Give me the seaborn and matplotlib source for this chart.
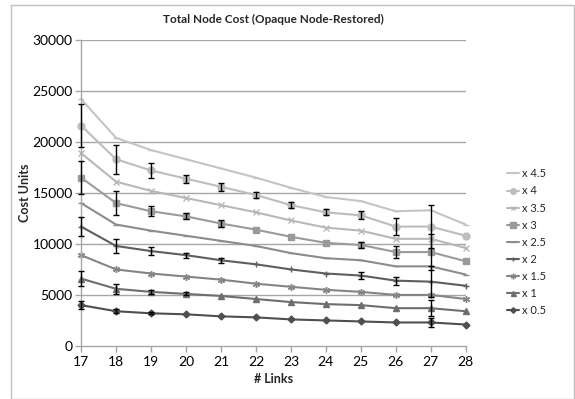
import numpy as np
import pandas as pd
import matplotlib
matplotlib.use("Agg")
import matplotlib.pyplot as plt
from matplotlib.patches import Rectangle
import seaborn as sns

# Number of links on the x axis
links = [17, 18, 19, 20, 21, 22, 23, 24, 25, 26, 27, 28]

# Total node cost per scale factor
cost_x45 = [24200, 20400, 19200, 18300, 17400, 16500, 15500, 14600, 14200, 13200, 13300, 11900]
cost_x4 = [21600, 18300, 17200, 16400, 15600, 14800, 13800, 13100, 12800, 11700, 11700, 10800]
cost_x35 = [18900, 16100, 15200, 14500, 13800, 13100, 12300, 11600, 11300, 10500, 10500, 9600]
cost_x3 = [16500, 14000, 13200, 12700, 12000, 11400, 10700, 10100, 9900, 9200, 9200, 8300]
cost_x25 = [14000, 11900, 11300, 10800, 10300, 9800, 9100, 8600, 8400, 7800, 7800, 7000]
cost_x2 = [11700, 9800, 9300, 8900, 8400, 8000, 7500, 7100, 6900, 6400, 6300, 5900]
cost_x15 = [8900, 7500, 7100, 6800, 6500, 6100, 5800, 5500, 5300, 5000, 5000, 4600]
cost_x1 = [6600, 5600, 5300, 5100, 4900, 4600, 4300, 4100, 4000, 3700, 3700, 3400]
cost_x05 = [4000, 3400, 3200, 3100, 2900, 2800, 2600, 2500, 2400, 2300, 2300, 2100]

# Error magnitudes (0 = no error bar)
err_x4 = [2100, 1400, 700, 400, 400, 300, 300, 300, 400, 800, 2100, 0]
err_x3 = [1600, 1200, 500, 300, 300, 0, 0, 0, 300, 600, 1800, 0]
err_x2 = [900, 700, 400, 250, 250, 0, 0, 0, 300, 400, 1500, 0]
err_x1 = [700, 500, 200, 150, 0, 0, 0, 0, 0, 0, 800, 0]
err_x05 = [400, 200, 100, 0, 0, 0, 0, 0, 0, 0, 400, 0]

series_labels = ["x 4.5", "x 4", "x 3.5", "x 3", "x 2.5", "x 2", "x 1.5", "x 1", "x 0.5"]
series_values = [cost_x45, cost_x4, cost_x35, cost_x3, cost_x25, cost_x2, cost_x15, cost_x1, cost_x05]
series_errors = {"x 4": err_x4, "x 3": err_x3, "x 2": err_x2, "x 1": err_x1, "x 0.5": err_x05}

palette = {
    "x 4.5": "#C4C4C4",
    "x 4": "#BDBDBD",
    "x 3.5": "#B8B8B8",
    "x 3": "#9A9A9A",
    "x 2.5": "#8C8C8C",
    "x 2": "#5E5E5E",
    "x 1.5": "#858585",
    "x 1": "#6E6E6E",
    "x 0.5": "#4F4F4F",
}
markers = {
    "x 4.5": "_",
    "x 4": "o",
    "x 3.5": "x",
    "x 3": "s",
    "x 2.5": "_",
    "x 2": "+",
    "x 1.5": (6, 2, 0),
    "x 1": "^",
    "x 0.5": "D",
}
marker_sizes = {"x 4.5": 4, "x 4": 5, "x 3.5": 4, "x 3": 5, "x 2.5": 4,
                "x 2": 4, "x 1.5": 5, "x 1": 4.5, "x 0.5": 3.5}

df = pd.DataFrame(
    [(x, lab, v) for lab, vals in zip(series_labels, series_values) for x, v in zip(links, vals)],
    columns=["Links", "Scale", "Cost"],
)

sns.set_theme(style="white")
plt.rcParams["font.family"] = ["Lato", "DejaVu Sans"]

fig = plt.figure(figsize=(5.75, 3.99), dpi=100)
ax = fig.add_axes([0.141, 0.133, 0.669, 0.767])

grid_col = "#A6A6A6"
for y in range(5000, 30001, 5000):
    ax.axhline(y, color=grid_col, lw=1.0, zorder=0)

for lab in series_labels:
    sub = df[df["Scale"] == lab]
    sns.lineplot(data=sub, x="Links", y="Cost", ax=ax, color=palette[lab],
                 marker=markers[lab], markersize=marker_sizes[lab],
                 markeredgecolor=palette[lab], markerfacecolor=palette[lab],
                 markeredgewidth=1.0, lw=1.5, label=lab, clip_on=False,
                 errorbar=None)

for lab, err in series_errors.items():
    vals = np.array(series_values[series_labels.index(lab)], dtype=float)
    e = np.array(err, dtype=float)
    m = e > 0
    ax.errorbar(np.array(links)[m], vals[m], yerr=e[m], fmt="none",
                ecolor="black", elinewidth=1.0, capsize=2, capthick=1.0,
                zorder=5, clip_on=False)

ax.set_xlim(17, 28)
ax.set_ylim(0, 30000)
ax.set_xticks(links)
ax.set_yticks(range(0, 30001, 5000))
ax.tick_params(axis="both", labelsize=10, length=4, width=1,
               direction="out", bottom=True, left=True, labelcolor="black",
               color=grid_col)
ax.tick_params(axis="y", pad=2)
for s in ["top", "right"]:
    ax.spines[s].set_visible(False)
for s in ["left", "bottom"]:
    ax.spines[s].set_color(grid_col)
    ax.spines[s].set_linewidth(1.0)

ax.set_xlabel("# Links", fontsize=9, fontweight="bold", labelpad=3)
ax.set_ylabel("Cost Units", fontsize=9, fontweight="bold")
ax.yaxis.set_label_coords(-0.13, 0.5)
ax.set_title("Total Node Cost (Opaque Node-Restored)", fontsize=8.5,
             fontweight="bold", pad=12)
ax.grid(False)

handles, labels = ax.get_legend_handles_labels()
leg = ax.legend(handles, labels, loc="upper left", bbox_to_anchor=(1.095, 0.595),
                frameon=False, fontsize=8, handlelength=1.1, handletextpad=0.3,
                labelspacing=0.55, borderaxespad=0, markerscale=0.8)

fig.patches.append(Rectangle((11 / 575, 0.0), 1 - 11 / 575 - 0.001, 1 - 5 / 399,
                             transform=fig.transFigure, fill=False,
                             edgecolor="#BFBFBF", lw=1.0))

fig.savefig("out.png", dpi=100)
